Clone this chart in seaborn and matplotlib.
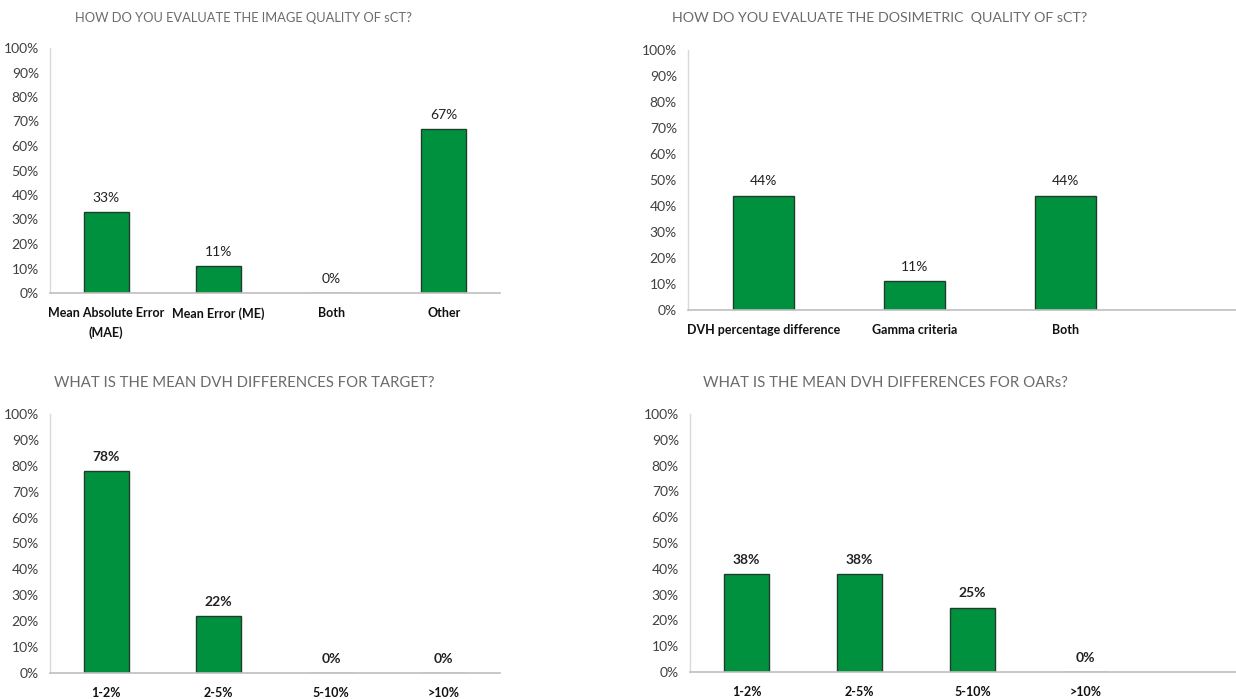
import matplotlib
matplotlib.use("Agg")
import matplotlib.pyplot as plt
import seaborn as sns
import pandas as pd
from matplotlib.ticker import PercentFormatter

sns.set_theme(style="white")
plt.rcParams['font.family'] = ['Lato', 'DejaVu Sans']

# ---- data ----
titles = [
    "HOW DO YOU EVALUATE THE IMAGE QUALITY OF sCT?",
    "HOW DO YOU EVALUATE THE DOSIMETRIC  QUALITY OF sCT?",
    "WHAT IS THE MEAN DVH DIFFERENCES FOR TARGET?",
    "WHAT IS THE MEAN DVH DIFFERENCES FOR OARs?",
]
cats_image = ["Mean Absolute Error\n(MAE)", "Mean Error (ME)", "Both", "Other"]
vals_image = [33, 11, 0, 67]
cats_dosi = ["DVH percentage difference", "Gamma criteria", "Both"]
vals_dosi = [44, 11, 44]
cats_target = ["1-2%", "2-5%", "5-10%", ">10%"]
vals_target = [78, 22, 0, 0]
cats_oar = ["1-2%", "2-5%", "5-10%", ">10%"]
vals_oar = [38, 38, 25, 0]
yticks = list(range(0, 101, 10))

W, H = 1236, 699
fig = plt.figure(figsize=(W / 100, H / 100), dpi=100)

GREEN = "#00913f"

def px_axes(left, top, right, bottom):
    return fig.add_axes([left / W, 1 - bottom / H, (right - left) / W, (bottom - top) / H])

panels = [
    # (cats, vals, axes box (l, t, r, b), xmax, title center (x, y), title size, bold labels)
    (cats_image, vals_image, (50, 48, 500, 293), 3.5, (244, 18), 9.3, False),
    (cats_dosi, vals_dosi, (688, 50, 1236, 310), 3.13, (880, 18), 10.3, False),
    (cats_target, vals_target, (50, 414, 500, 673), 3.5, (244, 383), 10.7, True),
    (cats_oar, vals_oar, (690, 414, 1236, 672), 4.33, (885, 383), 10.8, True),
]

for (cats, vals, box, xmax, tpos, tsize, bold), title in zip(panels, titles):
    ax = px_axes(*box)
    df = pd.DataFrame({"cat": cats, "val": vals})
    sns.barplot(data=df, x="cat", y="val", ax=ax, color=GREEN, saturation=1,
                width=0.4, edgecolor="#1f3d2a", linewidth=1.0)
    ax.set_xlim(-0.5, xmax)
    ax.set_ylim(0, 100)
    ax.set_yticks(yticks)
    ax.yaxis.set_major_formatter(PercentFormatter(decimals=0))
    ax.set_xlabel("")
    ax.set_ylabel("")
    for s in ["top", "right"]:
        ax.spines[s].set_visible(False)
    ax.spines["left"].set_color("#d9d9d9")
    ax.spines["bottom"].set_color("#bfbfbf")
    ax.spines["left"].set_linewidth(1.0)
    ax.spines["bottom"].set_linewidth(1.2)
    ax.tick_params(axis="y", length=0, pad=8, labelsize=10, labelcolor="#404040")
    ax.tick_params(axis="x", length=0, pad=10, labelsize=9, labelcolor="#111111")
    for lab in ax.get_xticklabels():
        lab.set_fontweight("bold")
        lab.set_linespacing(1.7)
    ax.bar_label(ax.containers[0], labels=[f"{v}%" for v in vals], padding=6,
                 fontsize=10, color="#222222",
                 fontweight="bold" if bold else "normal")
    fig.text(tpos[0] / W, 1 - tpos[1] / H, title, ha="center", va="center",
             fontsize=tsize, color="#6b6b6b")

fig.savefig("out.png", dpi=100, facecolor="white")
